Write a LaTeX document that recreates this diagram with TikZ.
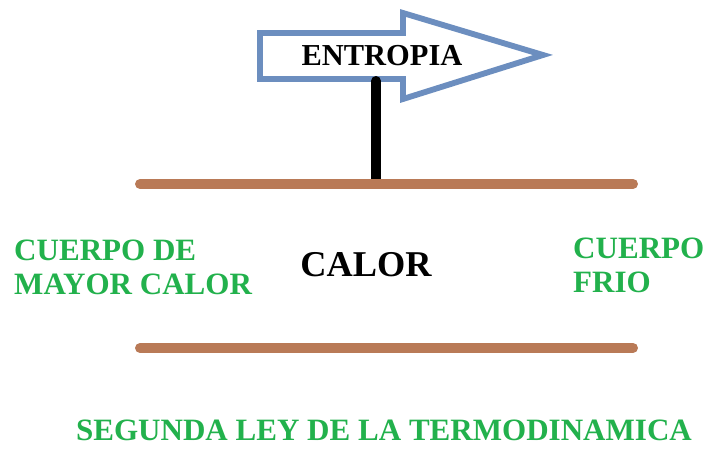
\documentclass[tikz,border=0pt]{standalone}
\usepackage{fontspec}
\setmainfont{Liberation Serif}
\usepackage{color}
\definecolor{barbrown}{RGB}{185,122,87}
\definecolor{signblue}{RGB}{108,142,191}
\definecolor{labelgreen}{RGB}{34,177,76}
\tikzstyle{label} = [inner sep=0pt,text=labelgreen,font=\bfseries\fontsize{26.5}{29}\selectfont,align=left]
\tikzstyle{bar} = [barbrown,line width=8.5pt,line cap=round]

\begin{document}
\begin{tikzpicture}[x=0.03cm,y=-0.03cm]
	\useasboundingbox (0,0) rectangle (705,448);
	% sign arrow
	\draw[signblue,line width=5pt,line join=miter] (260,33)--(403,33)--(403,13)--(543,55)--(403,99)--(403,79)--(260,79)--cycle;
	\node [inner sep=0pt,font=\bfseries\fontsize{26}{29}\selectfont](entropia) at (382,56){ENTROPIA};
	\coordinate (postTop) at (376,81);
	\coordinate (postFoot) at (376,183);
	\draw[line width=8.5pt,line cap=round](postTop)--(postFoot);
	% bars
	\coordinate (topL) at (140,184);
	\coordinate (topR) at (633,184);
	\coordinate (botL) at (140,348);
	\coordinate (botR) at (633,348);
	\draw[bar](topL)--(topR);
	\draw[bar](botL)--(botR);
	% texts
	\node [inner sep=0pt,font=\bfseries\fontsize{31}{34}\selectfont](calor) at (366,265){CALOR};
	\node [label,anchor=north west](caliente) at (14,240){CUERPO DE\\MAYOR CALOR};
	\node [label,anchor=north west](frio) at (573,238){CUERPO\\FRIO};
	\node [label](ley) at (384,430){SEGUNDA LEY DE LA TERMODINAMICA};
\end{tikzpicture}
\end{document}
